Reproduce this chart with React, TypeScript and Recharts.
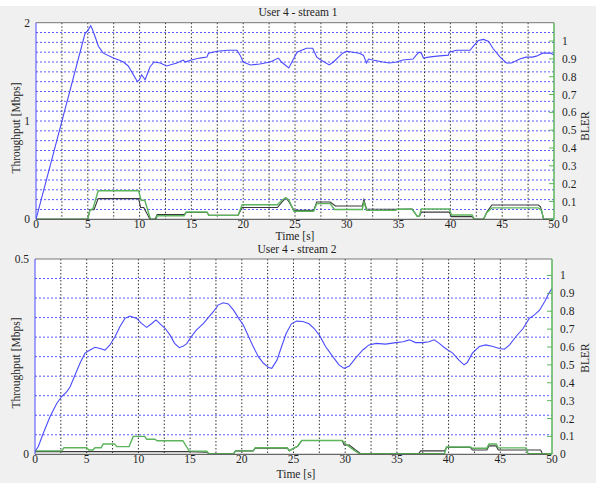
import React from 'react';
import { ComposedChart, Line, XAxis, YAxis, CartesianGrid, ReferenceLine } from 'recharts';

// ---------- tick / grid values ----------
const timeTicks = [0, 5, 10, 15, 20, 25, 30, 35, 40, 45, 50];
const timeGrid = [2.5, 5, 7.5, 10, 12.5, 15, 17.5, 20, 22.5, 25, 27.5, 30, 32.5, 35, 37.5, 40, 42.5, 45, 47.5];
const blerTicks = [0, 0.1, 0.2, 0.3, 0.4, 0.5, 0.6, 0.7, 0.8, 0.9, 1];
const thr1Ticks = [0, 1, 2];
const thr1Grid = [0.1, 0.2, 0.3, 0.4, 0.5, 0.6, 0.7, 0.8, 0.9, 1, 1.1, 1.2, 1.3, 1.4, 1.5, 1.6, 1.7, 1.8, 1.9];
const thr2Ticks = [0, 0.5];
const thr2Grid = [0.05, 0.1, 0.15, 0.2, 0.25, 0.3, 0.35, 0.4, 0.45];

// ---------- stream 1 ----------
const s1Throughput: [number, number][] = [
  [0, 0], [4.73, 1.89], [5.0, 1.92], [5.28, 1.97], [5.45, 1.93], [5.7, 1.86], [6.02, 1.76], [6.5, 1.69],
  [7.47, 1.64], [8.0, 1.62], [8.44, 1.6], [8.9, 1.56], [9.24, 1.5], [9.79, 1.4], [9.98, 1.42], [10.2, 1.47],
  [10.53, 1.42], [11.0, 1.55], [11.4, 1.6], [12.0, 1.59], [12.6, 1.56], [13.6, 1.59], [14.2, 1.62], [14.4, 1.6],
  [15.0, 1.62], [15.8, 1.64], [16.5, 1.65], [16.65, 1.69], [17.5, 1.71], [18.5, 1.72], [19.4, 1.72], [19.7, 1.67],
  [20.0, 1.6], [20.7, 1.57], [21.6, 1.58], [22.6, 1.6], [23.4, 1.64], [23.7, 1.6], [24.4, 1.54], [24.7, 1.6],
  [25.2, 1.7], [26.1, 1.74], [26.7, 1.74], [27.1, 1.65], [27.5, 1.62], [28.3, 1.57], [28.7, 1.6], [29.6, 1.69],
  [30.0, 1.71], [31.2, 1.69], [31.6, 1.67], [31.9, 1.59], [32.1, 1.63], [32.5, 1.62], [33.5, 1.6], [34.1, 1.59],
  [34.8, 1.6], [35.4, 1.62], [36.4, 1.63], [36.7, 1.67], [36.97, 1.7], [37.2, 1.69], [37.4, 1.64], [37.9, 1.65],
  [38.7, 1.66], [39.8, 1.67], [39.9, 1.7], [40.6, 1.72], [41.9, 1.72], [42.2, 1.76], [42.7, 1.82], [43.2, 1.83],
  [43.7, 1.81], [44.1, 1.74], [44.8, 1.65], [45.4, 1.59], [45.9, 1.59], [46.7, 1.63], [47.3, 1.65], [47.9, 1.65],
  [48.3, 1.66], [48.9, 1.69], [49.7, 1.69], [50, 1.67],
];
const s1BlerGreen: [number, number][] = [
  [0, 0], [5.0, 0], [5.2, 0.05], [5.5, 0.06], [5.7, 0.1], [6.0, 0.16], [9.9, 0.16], [10.15, 0.107], [10.5, 0.107],
  [11.05, 0], [11.6, 0], [11.7, 0.02], [14.3, 0.02], [14.5, 0.041], [16.5, 0.041], [16.7, 0.022], [19.5, 0.022],
  [19.9, 0.082], [23.3, 0.082], [23.8, 0.11], [24.1, 0.12], [24.4, 0.11], [24.9, 0.045], [26.8, 0.045],
  [27.1, 0.088], [28.4, 0.088], [28.8, 0.055], [31.5, 0.055], [31.65, 0.1], [31.9, 0.05], [34.7, 0.05],
  [34.9, 0.056], [36.3, 0.056], [36.8, 0.017], [37.0, 0.017], [37.2, 0.058], [39.9, 0.058], [40.1, 0.024],
  [42.1, 0.024], [42.3, 0], [43.2, 0], [43.5, 0.037], [44.0, 0.064], [48.5, 0.064], [48.8, 0.05], [49.0, 0], [50, 0],
];
const s1BlerBlack: [number, number][] = [
  [0, 0], [5.0, 0], [5.2, 0.054], [5.6, 0.054], [6.0, 0.116], [9.9, 0.116], [10.1, 0.066], [10.4, 0.066],
  [11.0, 0], [11.5, 0], [11.7, 0.026], [14.3, 0.026], [14.5, 0.038], [16.5, 0.038], [16.7, 0.022], [19.5, 0.022],
  [19.9, 0.066], [23.3, 0.066], [23.8, 0.1], [24.1, 0.12], [24.4, 0.1], [24.9, 0.05], [26.8, 0.05],
  [27.1, 0.097], [28.4, 0.097], [28.9, 0.075], [31.5, 0.075], [31.65, 0.11], [31.9, 0.058], [34.7, 0.056],
  [36.3, 0.058], [36.8, 0.017], [37.0, 0.017], [37.2, 0.04], [39.9, 0.04], [40.1, 0.015], [42.1, 0.015],
  [42.3, 0], [43.2, 0], [43.5, 0.04], [44.0, 0.08], [48.5, 0.08], [48.7, 0.07], [49.0, 0], [50, 0],
];

// ---------- stream 2 ----------
const s2Throughput: [number, number][] = [
  [0, 0.007], [0.32, 0.02], [0.8, 0.054], [1.45, 0.096], [2.1, 0.13], [2.58, 0.148], [3.06, 0.16], [3.4, 0.173],
  [3.87, 0.203], [4.35, 0.233], [4.84, 0.259], [5.32, 0.267], [5.8, 0.274], [6.29, 0.271], [6.77, 0.267],
  [7.25, 0.28], [7.74, 0.301], [8.22, 0.327], [8.7, 0.348], [9.19, 0.354], [9.83, 0.348], [10.3, 0.335],
  [10.8, 0.325], [11.3, 0.335], [11.7, 0.344], [12.1, 0.334], [12.6, 0.322], [13.06, 0.305], [13.5, 0.284],
  [13.96, 0.273], [14.35, 0.277], [14.7, 0.284], [15.0, 0.297], [15.6, 0.318], [16.3, 0.335], [16.8, 0.351],
  [17.25, 0.365], [17.7, 0.382], [18.2, 0.388], [18.7, 0.385], [19.2, 0.369], [19.7, 0.348], [20.15, 0.331],
  [20.6, 0.305], [21.1, 0.276], [21.6, 0.25], [22.1, 0.233], [22.6, 0.222], [22.9, 0.22], [23.4, 0.241],
  [23.85, 0.276], [24.3, 0.31], [24.8, 0.334], [25.3, 0.341], [25.9, 0.34], [26.5, 0.334], [27.0, 0.322],
  [27.5, 0.305], [28.1, 0.276], [28.8, 0.25], [29.4, 0.229], [29.9, 0.22], [30.4, 0.226], [31.0, 0.246],
  [31.7, 0.267], [32.3, 0.28], [33.0, 0.284], [33.9, 0.282], [34.9, 0.286], [35.6, 0.288], [36.2, 0.293],
  [36.8, 0.286], [37.5, 0.286], [38.1, 0.288], [38.6, 0.293], [39.1, 0.284], [39.7, 0.271], [40.4, 0.259],
  [41.0, 0.241], [41.5, 0.229], [41.8, 0.235], [42.3, 0.259], [42.97, 0.276], [43.6, 0.28], [44.3, 0.276],
  [44.9, 0.271], [45.4, 0.269], [45.9, 0.28], [46.5, 0.301], [47.2, 0.322], [47.8, 0.348], [48.3, 0.357],
  [48.8, 0.369], [49.3, 0.391], [49.7, 0.412], [50, 0.425],
];
const s2BlerGreen: [number, number][] = [
  [0, 0.019], [2.6, 0.019], [2.8, 0.037], [5.0, 0.037], [5.2, 0.024], [5.6, 0.024], [5.8, 0.037], [6.4, 0.037],
  [6.6, 0.058], [7.7, 0.058], [7.9, 0.043], [9.1, 0.043], [9.5, 0.1], [10.6, 0.1], [10.8, 0.084], [11.6, 0.084],
  [11.8, 0.076], [14.3, 0.076], [14.9, 0.019], [16.6, 0.017], [16.8, 0.004], [19.2, 0.004], [19.4, 0.019],
  [21.1, 0.019], [21.3, 0.037], [24.4, 0.037], [24.6, 0.02], [24.9, 0.03], [25.4, 0.045], [25.8, 0.077],
  [29.7, 0.077], [30.0, 0.06], [30.8, 0.025], [31.4, 0.003], [39.6, 0.003], [39.8, 0.041], [42.1, 0.041],
  [42.3, 0.034], [43.7, 0.034], [43.9, 0.058], [44.6, 0.058], [44.8, 0.036], [47.5, 0.036], [47.7, 0.003], [50, 0.003],
];
const s2BlerBlack: [number, number][] = [
  [0, 0.015], [14.9, 0.015], [16.6, 0.012], [16.8, 0.003], [19.2, 0.003], [19.4, 0.019], [21.1, 0.019],
  [21.3, 0.034], [24.4, 0.034], [24.6, 0.02], [24.9, 0.03], [25.4, 0.045], [25.8, 0.077], [29.7, 0.077],
  [29.9, 0.052], [30.4, 0.052], [31.0, 0.024], [31.5, 0.003], [37.1, 0.003], [37.3, 0.019], [39.6, 0.019],
  [39.8, 0.039], [42.1, 0.039], [42.3, 0.024], [43.7, 0.024], [43.9, 0.047], [44.6, 0.047], [44.8, 0.024],
  [48.9, 0.024], [49.1, 0], [50, 0],
];

// ---------- styling ----------
const BLUE = '#4b4bff';
const GRID_BLUE = '#5a5aff';
const GREEN = '#5cb55c';
const BLACK = '#3a3a3a';
const TEXT = '#1e1e1e';
const FONT = '"Liberation Serif", "Times New Roman", "DejaVu Serif", serif';

const toRows = (pairs: [number, number][]) => pairs.map(([t, v]) => ({ t, v }));
const fmt = (v: number) => String(Math.round(v * 10) / 10);

const RightTick = (props: any) => {
  const { x, y, payload } = props;
  const ax = x - 8;
  return (
    <g>
      <line x1={ax} x2={ax - 5} y1={y} y2={y} stroke={GREEN} strokeWidth={1} />
      <text x={x} y={y} dy="0.35em" textAnchor="start" fill={TEXT} fontSize={11.5} fontFamily={FONT}>
        {fmt(payload.value)}
      </text>
    </g>
  );
};

type PanelProps = {
  throughput: [number, number][];
  green: [number, number][];
  black: [number, number][];
  leftMax: number;
  leftTicks: number[];
  leftGrid: number[];
  rightMax: number;
  margin: { top: number; right: number; bottom: number; left: number };
};

const Panel = ({ throughput, green, black, leftMax, leftTicks, leftGrid, rightMax, margin }: PanelProps) => (
  <ComposedChart width={596} height={240} margin={margin}>
    <CartesianGrid yAxisId="left" fill="#ffffff" horizontal={false} vertical={false} />
    <CartesianGrid
      yAxisId="left"
      horizontal
      vertical={false}
      horizontalValues={leftGrid}
      stroke={GRID_BLUE}
      strokeDasharray="2 2"
    />
    <CartesianGrid
      yAxisId="left"
      horizontal={false}
      vertical
      verticalValues={timeGrid}
      stroke="#333"
      strokeDasharray="1.5 2"
    />
    <XAxis
      dataKey="t"
      type="number"
      domain={[0, 50]}
      ticks={timeTicks}
      interval={0}
      allowDataOverflow
      tickLine={false}
      tickSize={0}
      tickMargin={1}
      height={20}
      axisLine={{ stroke: '#444' }}
      tick={{ fill: TEXT, fontSize: 11.5, fontFamily: FONT }}
    />
    <YAxis
      yAxisId="left"
      type="number"
      domain={[0, leftMax]}
      ticks={leftTicks}
      interval={0}
      allowDataOverflow
      width={30}
      tickLine={false}
      tickSize={4}
      tickMargin={2}
      axisLine={{ stroke: BLUE }}
      tickFormatter={(v: number) => String(v)}
      tick={{ fill: TEXT, fontSize: 11.5, fontFamily: FONT }}
    />
    <YAxis
      yAxisId="right"
      orientation="right"
      type="number"
      domain={[0, rightMax]}
      ticks={blerTicks}
      interval={0}
      allowDataOverflow
      width={30}
      tickLine={false}
      tickSize={6}
      tickMargin={2}
      axisLine={{ stroke: GREEN, strokeWidth: 1.5 }}
      tick={<RightTick />}
    />
    <ReferenceLine yAxisId="left" y={leftMax} stroke="#777" />
    <Line
      data={toRows(throughput)}
      dataKey="v"
      yAxisId="left"
      type="linear"
      stroke={BLUE}
      strokeWidth={1.1}
      dot={false}
      activeDot={false}
      isAnimationActive={false}
    />
    <Line
      data={toRows(black)}
      dataKey="v"
      yAxisId="right"
      type="linear"
      stroke={BLACK}
      strokeWidth={1.1}
      dot={false}
      activeDot={false}
      isAnimationActive={false}
    />
    <Line
      data={toRows(green)}
      dataKey="v"
      yAxisId="right"
      type="linear"
      stroke={GREEN}
      strokeWidth={1.4}
      dot={false}
      activeDot={false}
      isAnimationActive={false}
    />
  </ComposedChart>
);

const txt = (x: number, y: number, rotate = false): React.CSSProperties => ({
  position: 'absolute',
  left: x,
  top: y,
  transform: `translate(-50%, -50%)${rotate ? ' rotate(-90deg)' : ''}`,
  whiteSpace: 'nowrap',
  fontFamily: FONT,
  fontSize: 11.5,
  color: TEXT,
  lineHeight: 1,
});

export default function App() {
  return (
    <div
      style={{
        position: 'absolute',
        left: 0,
        top: 0,
        width: 596,
        height: 483,
        background: '#f0f0f0',
        overflow: 'hidden',
      }}
    >
      <div style={{ position: 'absolute', left: 0, top: 0, width: 596, height: 6, background: '#ffffff' }} />
      <div style={{ position: 'absolute', left: 0, top: 0 }}>
        <Panel
          throughput={s1Throughput}
          green={s1BlerGreen}
          black={s1BlerBlack}
          leftMax={2}
          leftTicks={thr1Ticks}
          leftGrid={thr1Grid}
          rightMax={1.103}
          margin={{ top: 22.7, right: 12, bottom: 0.7, left: 6 }}
        />
      </div>
      <div style={{ position: 'absolute', left: 0, top: 240 }}>
        <Panel
          throughput={s2Throughput}
          green={s2BlerGreen}
          black={s2BlerBlack}
          leftMax={0.5}
          leftTicks={thr2Ticks}
          leftGrid={thr2Grid}
          rightMax={1.092}
          margin={{ top: 19, right: 14, bottom: 5.7, left: 5 }}
        />
      </div>
      <div style={txt(298, 13.3)}>User 4 - stream 1</div>
      <div style={txt(295, 237.4)}>Time [s]</div>
      <div style={txt(297, 250.2)}>User 4 - stream 2</div>
      <div style={txt(296, 475)}>Time [s]</div>
      <div style={txt(17.3, 128, true)}>Throughput [Mbps]</div>
      <div style={txt(16.7, 363, true)}>Throughput [Mbps]</div>
      <div style={txt(586, 126, true)}>BLER</div>
      <div style={txt(586, 358, true)}>BLER</div>
    </div>
  );
}
